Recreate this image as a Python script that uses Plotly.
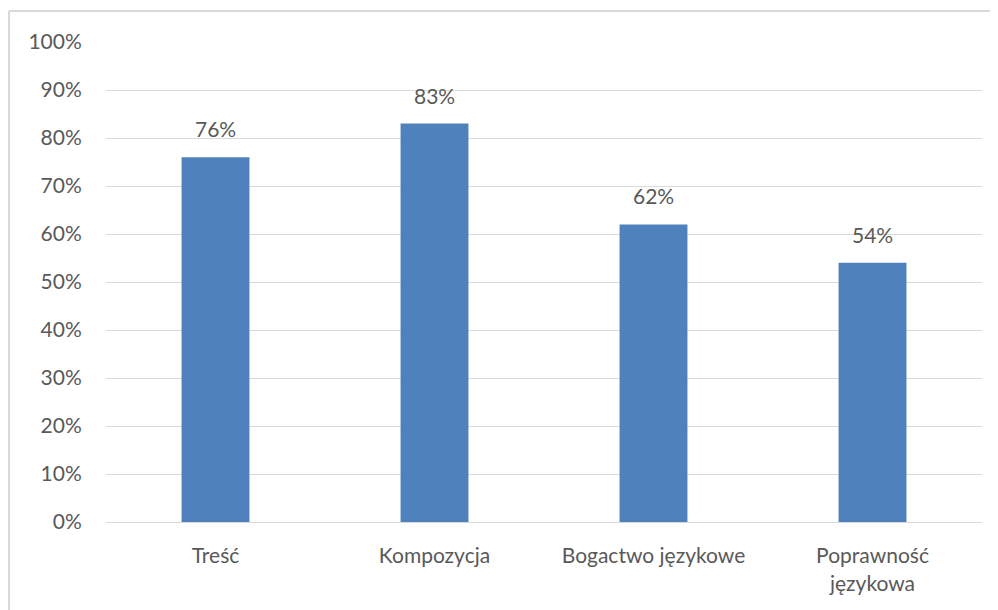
import plotly.graph_objects as go

categories = ["Treść", "Kompozycja", "Bogactwo językowe", "Poprawność<br>językowa"]
values = [0.76, 0.83, 0.62, 0.54]
value_labels = ["76%", "83%", "62%", "54%"]
y_ticks = [0, 0.1, 0.2, 0.3, 0.4, 0.5, 0.6, 0.7, 0.8, 0.9, 1.0]
y_tick_labels = ["0%", "10%", "20%", "30%", "40%", "50%", "60%", "70%", "80%", "90%", "100%"]

FONT = "Lato"
TXT = "#595959"
FS = 21

fig = go.Figure()
fig.add_trace(go.Bar(
    x=categories, y=values,
    marker=dict(color="#4F81BD", line=dict(width=0)),
    width=0.31,
    hoverinfo="skip",
))

for c, v, t in zip(categories, values, value_labels):
    fig.add_annotation(x=c, y=v, text=t, showarrow=False, yanchor="bottom",
                       yshift=14, font=dict(family=FONT, size=FS, color=TXT))

# chart-area frame: top and left edges (right/bottom fall outside the picture)
fig.add_shape(type="line", xref="paper", yref="paper",
              x0=-0.1107, x1=1.02, y0=1.0646, y1=1.0646,
              line=dict(color="#D9D9D9", width=2), layer="below")
fig.add_shape(type="line", xref="paper", yref="paper",
              x0=-0.1107, x1=-0.1107, y0=-0.2, y1=1.0646,
              line=dict(color="#D9D9D9", width=2), layer="below")

fig.update_layout(
    width=990, height=602,
    margin=dict(l=98, r=16, t=34, b=88),
    paper_bgcolor="white", plot_bgcolor="white",
    showlegend=False,
    font=dict(family=FONT, size=FS, color=TXT),
    xaxis=dict(
        showgrid=False, zeroline=False, showline=False,
        ticks="outside", ticklen=15, tickcolor="rgba(0,0,0,0)",
        tickfont=dict(family=FONT, size=FS, color=TXT),
    ),
    yaxis=dict(
        range=[0, 1.0], tickvals=y_ticks, ticktext=y_tick_labels,
        showgrid=True, gridcolor="#D9D9D9", gridwidth=1,
        zeroline=True, zerolinecolor="#D9D9D9", zerolinewidth=1,
        showline=False,
        ticks="outside", ticklen=19, tickcolor="rgba(0,0,0,0)",
        tickfont=dict(family=FONT, size=FS, color=TXT),
    ),
)

fig.write_html("out.html")
